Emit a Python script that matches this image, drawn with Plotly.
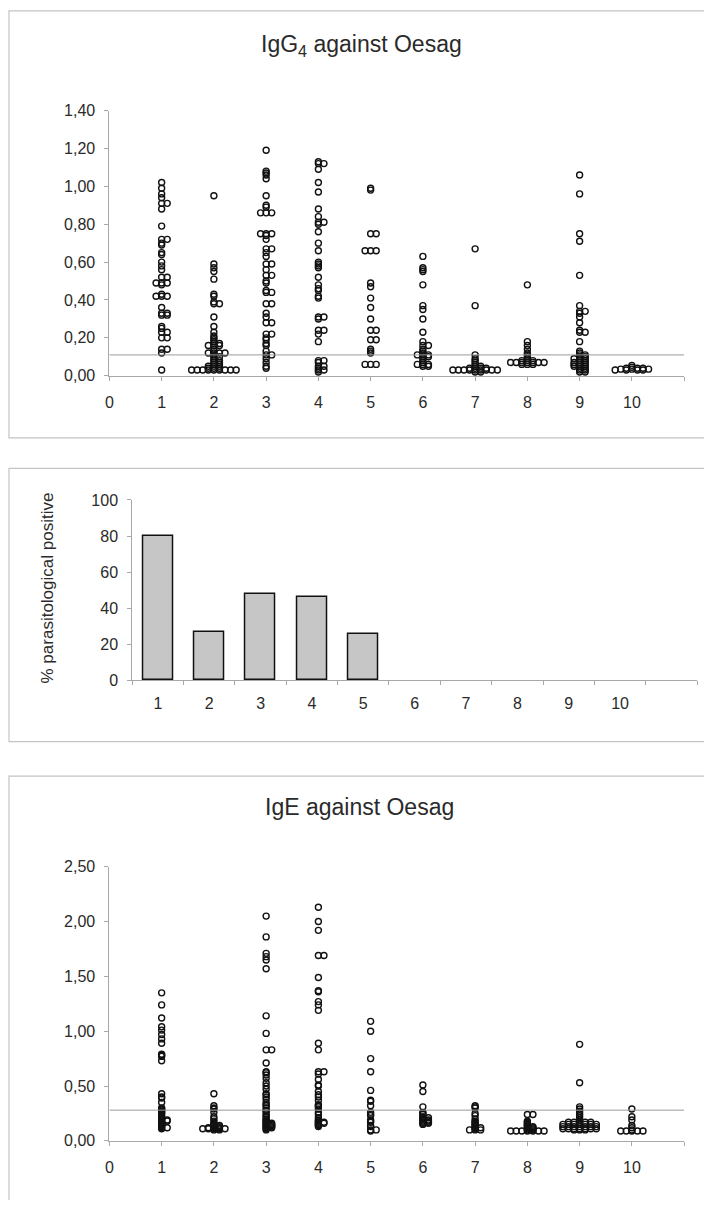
import plotly.graph_objects as go

# ---------------- data ----------------
groups = [1, 2, 3, 4, 5, 6, 7, 8, 9, 10]
x_tick_values = [0, 1, 2, 3, 4, 5, 6, 7, 8, 9, 10]
x_tick_labels = ["0", "1", "2", "3", "4", "5", "6", "7", "8", "9", "10"]

igg4_g1 = [1.02, 0.99, 0.96, 0.94, 0.91, 0.91, 0.88, 0.79, 0.72, 0.72, 0.70, 0.69, 0.65, 0.64,
           0.60, 0.58, 0.56, 0.52, 0.52, 0.49, 0.49, 0.49, 0.48, 0.43, 0.42, 0.42, 0.42, 0.36,
           0.33, 0.33, 0.32, 0.32, 0.26, 0.25, 0.23, 0.23, 0.20, 0.20, 0.14, 0.14, 0.12, 0.03]
igg4_g2 = [0.95, 0.59, 0.57, 0.55, 0.51, 0.43, 0.42, 0.39, 0.38, 0.38, 0.31, 0.26, 0.23, 0.21,
           0.20, 0.19, 0.18, 0.17, 0.17, 0.16, 0.16, 0.16, 0.14, 0.13, 0.12, 0.12, 0.12, 0.12,
           0.11, 0.10, 0.10, 0.09, 0.08, 0.08, 0.07, 0.07, 0.06, 0.06, 0.05, 0.05, 0.05, 0.04,
           0.04, 0.04, 0.03, 0.03, 0.03, 0.03, 0.03, 0.03, 0.03, 0.03, 0.03]
igg4_g3 = [1.19, 1.08, 1.07, 1.06, 1.04, 0.95, 0.90, 0.89, 0.86, 0.86, 0.86, 0.75, 0.75, 0.75,
           0.74, 0.72, 0.67, 0.67, 0.65, 0.63, 0.59, 0.59, 0.56, 0.53, 0.53, 0.50, 0.49, 0.45,
           0.44, 0.44, 0.38, 0.38, 0.33, 0.31, 0.28, 0.28, 0.22, 0.22, 0.20, 0.19, 0.17, 0.16,
           0.13, 0.11, 0.11, 0.09, 0.07, 0.05, 0.04]
igg4_g4 = [1.13, 1.12, 1.12, 1.09, 1.02, 0.97, 0.88, 0.84, 0.81, 0.81, 0.80, 0.76, 0.70, 0.66,
           0.60, 0.59, 0.58, 0.57, 0.52, 0.48, 0.46, 0.45, 0.42, 0.41, 0.31, 0.31, 0.30, 0.24,
           0.24, 0.22, 0.18, 0.08, 0.08, 0.07, 0.05, 0.05, 0.04, 0.03, 0.03, 0.02]
igg4_g5 = [0.99, 0.98, 0.75, 0.75, 0.66, 0.66, 0.66, 0.49, 0.47, 0.41, 0.36, 0.30, 0.24, 0.24,
           0.19, 0.19, 0.14, 0.13, 0.12, 0.06, 0.06, 0.06]
igg4_g6 = [0.63, 0.57, 0.56, 0.55, 0.48, 0.37, 0.35, 0.30, 0.23, 0.18, 0.16, 0.16, 0.14, 0.13,
           0.12, 0.11, 0.11, 0.11, 0.10, 0.10, 0.09, 0.08, 0.07, 0.06, 0.06, 0.06, 0.05, 0.05]
igg4_g7 = [0.67, 0.37, 0.11, 0.09, 0.08, 0.07, 0.06, 0.05, 0.05, 0.04, 0.04, 0.04, 0.04, 0.03,
           0.03, 0.03, 0.03, 0.03, 0.03, 0.03, 0.03, 0.03, 0.02, 0.02]
igg4_g8 = [0.48, 0.18, 0.16, 0.14, 0.12, 0.11, 0.10, 0.09, 0.08, 0.08, 0.08, 0.07, 0.07, 0.07,
           0.07, 0.07, 0.07, 0.07, 0.06, 0.06, 0.06]
igg4_g9 = [1.06, 0.96, 0.75, 0.71, 0.53, 0.37, 0.34, 0.34, 0.33, 0.31, 0.28, 0.24, 0.23, 0.23,
           0.18, 0.13, 0.12, 0.11, 0.11, 0.10, 0.10, 0.09, 0.09, 0.09, 0.08, 0.08, 0.07, 0.07,
           0.07, 0.06, 0.06, 0.06, 0.05, 0.05, 0.05, 0.04, 0.04, 0.03, 0.03, 0.02, 0.02]
igg4_g10 = [0.055, 0.045, 0.04, 0.04, 0.04, 0.035, 0.035, 0.035, 0.03, 0.03, 0.03, 0.03]

ige_g1 = [1.35, 1.24, 1.12, 1.04, 1.01, 0.97, 0.93, 0.89, 0.79, 0.78, 0.77, 0.73, 0.43, 0.40,
          0.39, 0.35, 0.30, 0.29, 0.28, 0.27, 0.26, 0.25, 0.23, 0.22, 0.20, 0.19, 0.19, 0.18,
          0.18, 0.17, 0.16, 0.15, 0.14, 0.13, 0.12, 0.12, 0.11]
ige_g2 = [0.43, 0.32, 0.30, 0.29, 0.26, 0.22, 0.20, 0.18, 0.16, 0.15, 0.14, 0.14, 0.13, 0.13,
          0.12, 0.12, 0.12, 0.11, 0.11, 0.11, 0.11, 0.11, 0.10, 0.10]
ige_g3 = [2.05, 1.86, 1.71, 1.68, 1.65, 1.57, 1.14, 0.98, 0.83, 0.83, 0.71, 0.63, 0.62, 0.60,
          0.57, 0.53, 0.50, 0.47, 0.43, 0.42, 0.40, 0.38, 0.35, 0.33, 0.32, 0.30, 0.28, 0.27,
          0.25, 0.23, 0.22, 0.20, 0.19, 0.18, 0.17, 0.16, 0.16, 0.15, 0.15, 0.14, 0.14, 0.13,
          0.13, 0.12, 0.12, 0.11, 0.10]
ige_g4 = [2.13, 2.00, 1.92, 1.69, 1.69, 1.49, 1.37, 1.36, 1.27, 1.24, 1.19, 0.89, 0.83, 0.63,
          0.63, 0.61, 0.56, 0.51, 0.50, 0.45, 0.42, 0.40, 0.37, 0.33, 0.32, 0.31, 0.29, 0.26,
          0.24, 0.21, 0.19, 0.18, 0.17, 0.17, 0.16, 0.16, 0.15, 0.14, 0.13]
ige_g5 = [1.09, 1.00, 0.75, 0.63, 0.46, 0.37, 0.36, 0.32, 0.26, 0.24, 0.23, 0.19, 0.18, 0.17,
          0.14, 0.13, 0.10, 0.10, 0.09]
ige_g6 = [0.51, 0.45, 0.31, 0.26, 0.25, 0.24, 0.22, 0.21, 0.21, 0.20, 0.19, 0.19, 0.18, 0.18,
          0.17, 0.17, 0.16, 0.16, 0.15]
ige_g7 = [0.32, 0.31, 0.30, 0.25, 0.23, 0.20, 0.18, 0.17, 0.16, 0.15, 0.14, 0.13, 0.12, 0.12,
          0.11, 0.10, 0.10, 0.10]
ige_g8 = [0.24, 0.24, 0.18, 0.17, 0.16, 0.15, 0.14, 0.13, 0.13, 0.12, 0.12, 0.11, 0.11, 0.10,
          0.10, 0.09, 0.09, 0.09, 0.09, 0.09, 0.09, 0.09]
ige_g9 = [0.88, 0.53, 0.31, 0.29, 0.27, 0.25, 0.23, 0.21, 0.19, 0.17, 0.17, 0.17, 0.17, 0.17,
          0.15, 0.15, 0.15, 0.15, 0.15, 0.15, 0.15, 0.13, 0.13, 0.13, 0.13, 0.13, 0.13, 0.13,
          0.11, 0.11, 0.11, 0.11, 0.11, 0.11, 0.11, 0.10, 0.10, 0.10]
ige_g10 = [0.29, 0.22, 0.19, 0.14, 0.12, 0.10, 0.09, 0.09, 0.09, 0.09, 0.09]

igg4_values = [igg4_g1, igg4_g2, igg4_g3, igg4_g4, igg4_g5, igg4_g6, igg4_g7, igg4_g8, igg4_g9, igg4_g10]
ige_values = [ige_g1, ige_g2, ige_g3, ige_g4, ige_g5, ige_g6, ige_g7, ige_g8, ige_g9, ige_g10]

pct_positive = [80, 27, 48, 46, 26, 0, 0, 0, 0, 0]

igg4_cutoff = 0.11
ige_cutoff = 0.28

# ---------------- layout helpers ----------------
W, H = 704, 1209


def fx(px):
    return px / W


def fy(py):
    return 1 - py / H


TOP = dict(x0=106, x1=684, y0=373, y1=104, ymax=1.40)
MID = dict(x0=129, x1=697, y0=682, y1=499, ymax=100)
BOT = dict(x0=106, x1=684, y0=1149, y1=871, ymax=2.50)


def swarm_offsets(values, px_per_x, step_px=5.6, min_gap=0.008):
    """Place equal-ish values side by side (dot-plot style)."""
    placed = {}
    res = [0.0] * len(values)
    order = sorted(range(len(values)), key=lambda i: -values[i])
    cands = [0]
    for j in range(1, 40):
        cands += [j, -j]
    for i in order:
        y = values[i]
        for c in cands:
            if all(abs(y - yy) >= min_gap for yy in placed.get(c, [])):
                placed.setdefault(c, []).append(y)
                res[i] = c * step_px / px_per_x
                break
    return res


def swarm_xy(all_values, box):
    ppx = (box["x1"] - box["x0"]) / 11.0
    xs, ys = [], []
    for g, vals in zip(groups, all_values):
        offs = swarm_offsets(vals, ppx)
        xs += [g + o for o in offs]
        ys += list(vals)
    return xs, ys


FONT = "Liberation Sans, Arial, sans-serif"
TXT = "#2a2a2a"
AX = "#a8a8a8"

fig = go.Figure()

marker = dict(symbol="circle-open", size=6, color="#111111", line=dict(width=1.4, color="#111111"))

xs, ys = swarm_xy(igg4_values, TOP)
fig.add_trace(go.Scatter(x=xs, y=ys, mode="markers", marker=marker, xaxis="x", yaxis="y",
                         cliponaxis=False, showlegend=False))
fig.add_trace(go.Scatter(x=[0, 11], y=[igg4_cutoff, igg4_cutoff], mode="lines",
                         line=dict(color="#9a9a9a", width=1), xaxis="x", yaxis="y", showlegend=False))

bar_line_widths = [1.5 if v > 0 else 0 for v in pct_positive]
fig.add_trace(go.Bar(x=groups, y=pct_positive, width=0.58, xaxis="x2", yaxis="y2",
                     marker=dict(color="#c6c6c6", line=dict(color="#111111", width=bar_line_widths)),
                     showlegend=False))

xs, ys = swarm_xy(ige_values, BOT)
fig.add_trace(go.Scatter(x=xs, y=ys, mode="markers", marker=marker, xaxis="x3", yaxis="y3",
                         cliponaxis=False, showlegend=False))
fig.add_trace(go.Scatter(x=[0, 11], y=[ige_cutoff, ige_cutoff], mode="lines",
                         line=dict(color="#9a9a9a", width=1), xaxis="x3", yaxis="y3", showlegend=False))

tickfont = dict(family=FONT, size=16, color=TXT)


def xaxis_scatter(box, anchor):
    return dict(domain=[fx(box["x0"]), fx(box["x1"])], range=[0, 11], anchor=anchor,
                tickmode="array", tickvals=x_tick_values, ticktext=x_tick_labels,
                showline=True, linecolor=AX, linewidth=1, ticks="outside", ticklen=4,
                tickcolor=AX, showgrid=False, zeroline=False, tickfont=tickfont,
                ticklabelstandoff=8, fixedrange=True,
                minor=dict(tickmode="array", tickvals=[11], ticks="outside", ticklen=4,
                           tickcolor=AX, showgrid=False))


def yaxis_box(box, anchor, dtick, fmt):
    return dict(domain=[fy(box["y0"]), fy(box["y1"])], range=[0, box["ymax"]], anchor=anchor,
                dtick=dtick, tick0=0, tickformat=fmt, showline=True, linecolor=AX, linewidth=1,
                ticks="outside", ticklen=4, tickcolor=AX, showgrid=False, zeroline=False,
                tickfont=tickfont, ticklabelstandoff=6, fixedrange=True)


fig.update_layout(
    width=W, height=H, margin=dict(l=0, r=0, t=0, b=0),
    paper_bgcolor="white", plot_bgcolor="white", separators=",.",
    font=dict(family=FONT, color=TXT),
    bargap=0,
    xaxis=xaxis_scatter(TOP, "y"),
    yaxis=yaxis_box(TOP, "x", 0.2, ".2f"),
    xaxis2=dict(domain=[fx(MID["x0"]), fx(MID["x1"])], range=[0.5, 11.5], anchor="y2",
                tickmode="array", tickvals=groups, ticktext=[str(g) for g in groups],
                showline=True, linecolor=AX, linewidth=1, ticks="", showgrid=False,
                zeroline=False, tickfont=tickfont, ticklabelstandoff=8, fixedrange=True,
                minor=dict(tickmode="array", tickvals=[g - 0.5 for g in groups] + [10.5, 11.5],
                           ticks="outside", ticklen=4, tickcolor=AX, showgrid=False)),
    yaxis2=yaxis_box(MID, "x2", 20, "d"),
    xaxis3=xaxis_scatter(BOT, "y3"),
    yaxis3=yaxis_box(BOT, "x3", 0.5, ".2f"),
)


# panel frames (open on the right / bottom where the scan cuts them), kept inside the page
def frame_path(x_left, y_top, y_bottom, close_bottom=True):
    p = f"M {fx(W)} {fy(y_top)} L {fx(x_left)} {fy(y_top)} L {fx(x_left)} {fy(y_bottom)}"
    if close_bottom:
        p += f" L {fx(W)} {fy(y_bottom)}"
    return p


frame_style = dict(type="path", xref="paper", yref="paper", line=dict(color="#c4c4c4", width=1.2),
                   layer="below")
fig.add_shape(**frame_style, path=frame_path(5, 3, 436))
fig.add_shape(**frame_style, path=frame_path(5, 467, 744))
fig.add_shape(**frame_style, path=frame_path(5, 779, H, close_bottom=False))

# titles
fig.add_annotation(text="IgG<sub>4</sub> against Oesag", x=fx(360), y=fy(38), xref="paper", yref="paper",
                   showarrow=False, font=dict(family=FONT, size=23, color=TXT), xanchor="center",
                   yanchor="middle")
fig.add_annotation(text="IgE against Oesag", x=fx(358), y=fy(810), xref="paper", yref="paper",
                   showarrow=False, font=dict(family=FONT, size=23, color=TXT), xanchor="center",
                   yanchor="middle")
fig.add_annotation(text="% parasitological positive", x=fx(44), y=fy(588), xref="paper", yref="paper",
                   showarrow=False, textangle=-90, font=dict(family=FONT, size=17, color=TXT),
                   xanchor="center", yanchor="middle")

fig.write_html("out.html", config={"displayModeBar": False},
               post_script="document.body.style.margin='0px';")
